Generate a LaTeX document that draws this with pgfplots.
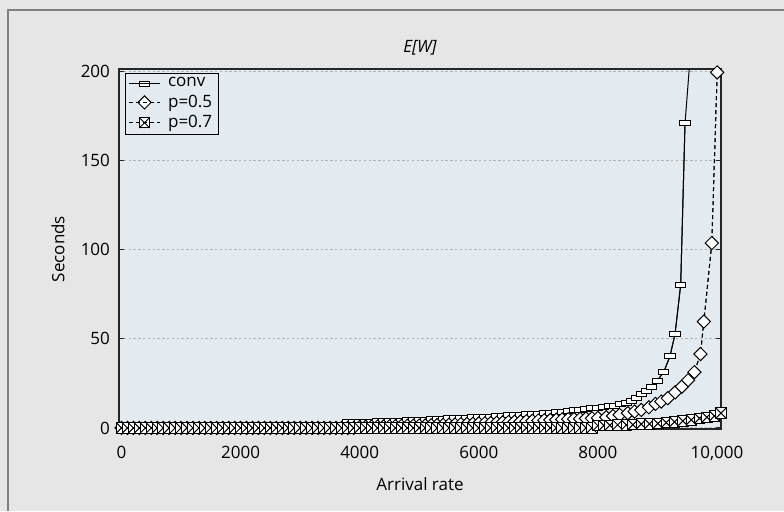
\documentclass[border=0pt]{standalone}
\usepackage{fontspec}
\setmainfont{Open Sans}
\usepackage{pgfplots}
\usepackage{pgfplotstable}
\pgfplotsset{compat=1.18}

\definecolor{outerbg}{RGB}{230,230,230}
\definecolor{plotbg}{RGB}{227,234,240}
\definecolor{framegray}{RGB}{128,128,128}

% marks: flat rectangle, diamond, boxed cross
\pgfdeclareplotmark{hrect}{%
  \pgfpathrectangle{\pgfqpoint{-1.4\pgfplotmarksize}{-0.7\pgfplotmarksize}}{\pgfqpoint{2.8\pgfplotmarksize}{1.4\pgfplotmarksize}}%
  \pgfusepathqfillstroke}
\pgfdeclareplotmark{dia}{%
  \pgfpathmoveto{\pgfqpoint{0pt}{\pgfplotmarksize}}%
  \pgfpathlineto{\pgfqpoint{\pgfplotmarksize}{0pt}}%
  \pgfpathlineto{\pgfqpoint{0pt}{-\pgfplotmarksize}}%
  \pgfpathlineto{\pgfqpoint{-\pgfplotmarksize}{0pt}}%
  \pgfpathclose\pgfusepathqfillstroke}
\pgfdeclareplotmark{sqx}{%
  \pgfpathrectangle{\pgfqpoint{-\pgfplotmarksize}{-\pgfplotmarksize}}{\pgfqpoint{2\pgfplotmarksize}{2\pgfplotmarksize}}%
  \pgfusepathqfillstroke
  \pgfpathmoveto{\pgfqpoint{-\pgfplotmarksize}{-\pgfplotmarksize}}\pgfpathlineto{\pgfqpoint{\pgfplotmarksize}{\pgfplotmarksize}}%
  \pgfpathmoveto{\pgfqpoint{-\pgfplotmarksize}{\pgfplotmarksize}}\pgfpathlineto{\pgfqpoint{\pgfplotmarksize}{-\pgfplotmarksize}}%
  \pgfusepathqstroke}

\pgfplotstableread{
x y
0 0.1
100 0.1
200 0.1
300 0.1
400 0.1
500 0.2
600 0.2
700 0.2
800 0.2
900 0.2
1000 0.2
1100 0.2
1200 0.3
1300 0.3
1400 0.3
1500 0.3
1600 0.3
1700 0.3
1800 0.4
1900 0.4
2000 0.4
2100 0.4
2200 0.4
2300 0.5
2400 0.5
2500 0.5
2600 0.5
2700 0.6
2800 0.6
2900 0.6
3000 0.7
3100 0.7
3200 0.7
3300 0.8
3400 0.8
3500 0.8
3600 0.9
3700 0.9
3800 3.2
3900 3.3
4000 3.4
4100 3.5
4200 3.6
4300 3.7
4400 3.8
4500 3.9
4600 4.0
4700 4.1
4800 4.3
4900 4.4
5000 4.5
5100 4.6
5200 4.8
5300 5.0
5400 5.1
5500 5.3
5600 5.4
5700 5.6
5800 5.7
5900 5.9
6000 6.0
6100 6.2
6200 6.4
6300 6.6
6400 6.8
6500 7.0
6600 7.2
6700 7.4
6800 7.6
6900 7.8
7000 8.0
7100 8.3
7200 8.6
7300 8.9
7400 9.2
7500 9.5
7600 9.9
7700 10.2
7800 10.6
7900 11.0
8000 11.4
8100 11.8
8190 12.2
8280 12.5
8380 13.5
8477 14.2
8560 15.3
8654 17.0
8733 18.9
8822 20.8
8900 23.2
8997 26.6
9105 31.3
9210 40.3
9295 52.6
9390 80.3
9463 171
}\conv

\pgfplotstableread{
x y
0 0
100 0
200 0
300 0
400 0
500 0
600 0
700 0
800 0
900 0
1000 0
1100 0
1200 0
1300 0
1400 0
1500 0
1600 0
1700 0
1800 0
1900 0
2000 0
2100 0
2200 0
2300 0
2400 0
2500 0
2600 0
2700 0
2800 0
2900 0
3000 0
3100 0
3200 0
3300 0
3400 0
3500 0
3600 0
3700 0
3800 0
3900 0
4000 0.5
4100 0.6
4200 0.7
4300 0.8
4400 0.8
4500 0.9
4600 1.0
4700 1.1
4800 1.2
4900 1.2
5000 1.3
5100 1.4
5200 1.5
5300 1.6
5400 1.7
5500 1.8
5600 1.9
5700 2.1
5800 2.2
5900 2.3
6000 2.5
6100 2.6
6200 2.8
6300 2.9
6400 3.1
6500 3.3
6600 3.5
6700 3.6
6800 3.8
6900 4.0
7000 4.2
7100 4.3
7200 4.5
7300 4.6
7400 4.8
7500 4.9
7600 5.0
7700 5.1
7800 5.3
7900 5.4
8000 5.6
8141 6.0
8252 6.7
8364 7.3
8503 8.3
8616 9.2
8728 10.1
8856 11.6
8968 13.5
9064 14.8
9174 16.7
9298 20.0
9410 23.2
9515 26.8
9620 31.3
9722 41.5
9779 59.7
9913 103.8
10003 199.6
}\pfive

\pgfplotstableread{
x y
0 0
100 0
200 0
300 0
400 0
500 0
600 0
700 0
800 0
900 0
1000 0
1100 0
1200 0
1300 0
1400 0
1500 0
1600 0
1700 0
1800 0
1900 0
2000 0
2100 0
2200 0
2300 0
2400 0
2500 0
2600 0
2700 0
2800 0
2900 0
3000 0
3100 0
3200 0
3300 0
3400 0
3500 0
3600 0
3700 0
3800 0
3900 0
4000 0
4100 0
4200 0
4300 0
4400 0
4500 0
4600 0
4700 0
4800 0
4900 0
5000 0
5100 0
5200 0
5300 0
5400 0
5500 0
5600 0
5700 0
5800 0
5900 0
6000 0
6100 0
6200 0
6300 0
6400 0
6500 0
6600 0
6700 0
6800 0
6900 0
7000 0
7100 0
7200 0
7300 0
7400 0
7500 0
7600 0
7700 0
7800 0
7900 0
8000 1.3
8100 1.4
8200 1.5
8331 1.7
8477 1.7
8587 1.8
8728 2.1
8867 2.3
9007 2.5
9148 3.0
9287 3.4
9426 3.9
9567 4.5
9706 5.4
9829 6.0
9957 6.7
10067 8.3
}\psev

\begin{document}
\begin{tikzpicture}[font=\fontsize{8.5}{10}\selectfont]
\useasboundingbox (-59.5pt,-41pt) rectangle (332.5pt,214.5pt);
\fill[outerbg] (-59.5pt,-41pt) rectangle (332.5pt,214.5pt);
\draw[framegray, line width=0.6pt] (-55.5pt,-41pt) -- (-55.5pt,209.5pt) -- (332.5pt,209.5pt);
\begin{axis}[
  at={(0pt,0pt)}, anchor=south west,
  scale only axis, width=301pt, height=180pt,
  xmin=-42, xmax=10067, ymin=-0.6, ymax=201.5,
  axis background/.style={fill=plotbg},
  axis line style={draw=black!85, line width=0.6pt},
  scaled x ticks=false,
  xtick={0,2000,4000,6000,8000,10000},
  xticklabels={0,2000,4000,6000,8000,{10,000}},
  xtick style={draw=none},
  ytick={0,50,100,150,200},
  ytick pos=both, tick align=inside, major tick length=2.5pt,
  ytick style={draw=black!85, line width=0.5pt},
  /pgf/number format/assume math mode=true,
  yticklabel style={xshift=-1pt},
  xticklabel style={yshift=-5pt},
  ymajorgrids, grid style={draw=gray!60, dash pattern=on 1.2pt off 1.2pt, line width=0.5pt},
  title={\itshape E[W]},
  title style={at={(axis description cs:0.5,1)}, anchor=base, yshift=2.5pt},
  xlabel={Arrival rate},
  xlabel style={at={(axis description cs:0.5,-0.1528)}, anchor=center},
  ylabel={Seconds},
  ylabel style={at={(axis description cs:-0.1013,0.5)}, anchor=center},
  legend cell align=left,
  legend style={at={(axis description cs:0,1)}, anchor=north west, xshift=3pt, yshift=-2pt,
    draw=black, line width=0.5pt, fill=plotbg, inner xsep=1.5pt, inner ysep=2pt,
    row sep=2.5pt, column sep=2pt,
    nodes={inner ysep=0pt, inner xsep=1.8pt},
    font=\fontsize{8.5}{10}\selectfont},
  legend image code/.code={%
    \draw[mark repeat=2,mark phase=2] plot coordinates {(0pt,0pt) (7.75pt,0pt) (15.5pt,0pt)};
    \draw[mark=none] (0pt,0pt) -- (15.5pt,0pt);},
]
% conv
\addplot[black, line width=0.5pt, mark=hrect, mark size=1.8pt, mark options={solid, fill=white, line width=0.5pt}] table {\conv};
\addlegendentry{conv}
\addplot[black, line width=0.5pt, forget plot] table {\conv};
\addplot[black, line width=0.5pt, forget plot] coordinates {(9463,171) (9560,213)};
% p=0.5
\addplot[black, line width=0.5pt, dash pattern=on 2pt off 1.5pt, mark=dia, mark size=3.3pt, mark options={solid, fill=white, line width=0.5pt}] table {\pfive};
\addlegendentry{p=0.5}
\addplot[black, line width=0.5pt, dash pattern=on 2pt off 1.5pt, forget plot] table {\pfive};
% p=0.7
\addplot[black, line width=0.5pt, dash pattern=on 2pt off 1.5pt, mark=sqx, mark size=2.6pt, mark options={solid, fill=white, line width=0.5pt}] table {\psev};
\addlegendentry{p=0.7}
\addplot[black, line width=0.5pt, dash pattern=on 2pt off 1.5pt, forget plot] table {\psev};
\end{axis}
\end{tikzpicture}
\end{document}
